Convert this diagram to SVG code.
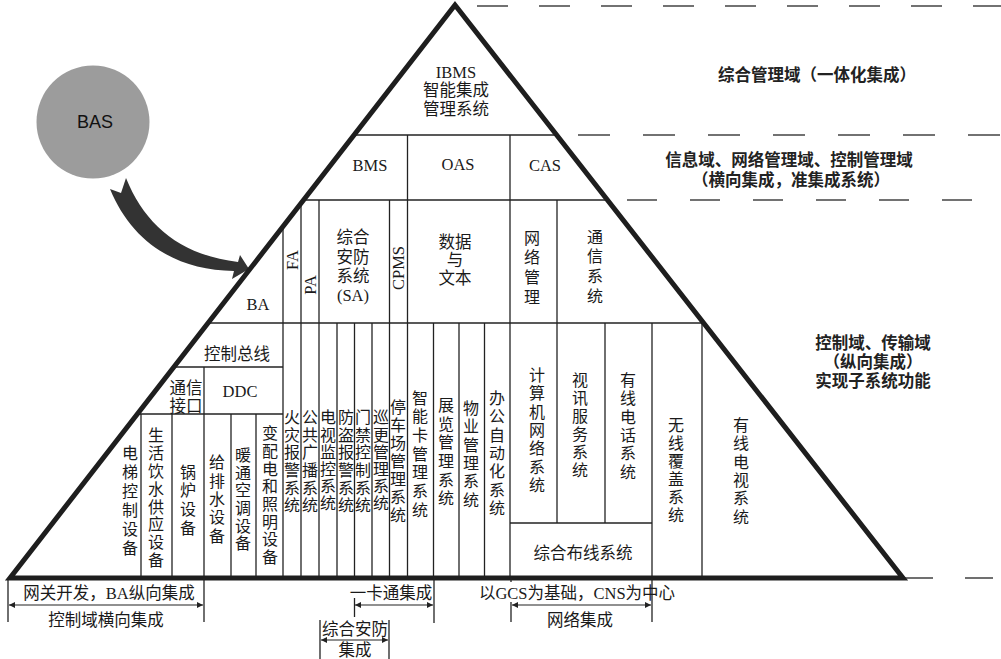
<svg xmlns="http://www.w3.org/2000/svg" width="1001" height="659" viewBox="0 0 1001 659">
<style>
.t{font-family:"Liberation Serif","Noto Sans CJK SC",serif;font-size:16.5px;fill:#1a1a1a;text-anchor:middle;dominant-baseline:central}
.v{font-family:"Noto Sans CJK SC",sans-serif;font-size:16px;fill:#1a1a1a;text-anchor:middle;writing-mode:vertical-rl;text-orientation:upright}
.r{font-family:"Liberation Sans","Noto Sans CJK SC",sans-serif;font-size:16.5px;font-weight:bold;fill:#222;text-anchor:middle;dominant-baseline:central}
.ln{stroke:#222;stroke-width:1.3;fill:none}
.dash{stroke:#444;stroke-width:1.3;fill:none}
.arr{stroke:#222;stroke-width:1.2;fill:none;marker-start:url(#ah);marker-end:url(#ah)}
</style>
<defs>
<clipPath id="tri"><polygon points="455,5 10,578 903,578"/></clipPath>
<marker id="ah" viewBox="0 0 10 10" refX="10" refY="5" markerWidth="9" markerHeight="6" markerUnits="userSpaceOnUse" orient="auto-start-reverse"><path d="M0,0 L10,5 L0,10 Z" fill="#222"/></marker>
</defs>
<rect width="1001" height="659" fill="#fff"/>

<g id="domain-lines">
<line class="dash" x1="477" y1="6" x2="1001" y2="6" stroke-dasharray="31 31"/>
<line class="dash" x1="578" y1="135" x2="1001" y2="135" stroke-dasharray="32 33"/>
<line class="dash" x1="627" y1="200" x2="1001" y2="200" stroke-dasharray="30 33"/>
<line class="ln" x1="903" y1="578" x2="933" y2="578"/>
<line class="ln" x1="965" y1="578" x2="993" y2="578"/>
</g>

<g id="bas">
<circle cx="93" cy="122" r="56.5" fill="#9c9c9c"/>
<text x="95" y="122" style="font-family:'Liberation Sans',sans-serif;font-size:18px;fill:#111;text-anchor:middle;dominant-baseline:central">BAS</text>
</g>

<g id="connectors">
<path d="M126 178 C145 225 180 255 238 262 L240 255 L249 269 L232 279 L234 271 C175 270 132 242 110 189 L121 193 Z" fill="#333"/>
</g>

<g id="grid" clip-path="url(#tri)">
<line class="ln" x1="0" y1="135" x2="1001" y2="135"/>
<line class="ln" x1="0" y1="200" x2="1001" y2="200"/>
<line class="ln" x1="0" y1="323" x2="1001" y2="323"/>
<line class="ln" x1="407.5" y1="135" x2="407.5" y2="578"/>
<line class="ln" x1="510" y1="135" x2="510" y2="578"/>
<line class="ln" x1="283" y1="150" x2="283" y2="578"/>
<line class="ln" x1="301" y1="200" x2="301" y2="578"/>
<line class="ln" x1="319" y1="200" x2="319" y2="578"/>
<line class="ln" x1="389.5" y1="200" x2="389.5" y2="578"/>
<line class="ln" x1="557" y1="200" x2="557" y2="523"/>
<line class="ln" x1="605" y1="323" x2="605" y2="523"/>
<line class="ln" x1="652" y1="323" x2="652" y2="578"/>
<line class="ln" x1="702" y1="323" x2="702" y2="578"/>
<line class="ln" x1="510" y1="523" x2="652" y2="523"/>
<line class="ln" x1="337" y1="323" x2="337" y2="578"/>
<line class="ln" x1="354.5" y1="323" x2="354.5" y2="578"/>
<line class="ln" x1="372" y1="323" x2="372" y2="578"/>
<line class="ln" x1="433.5" y1="323" x2="433.5" y2="578"/>
<line class="ln" x1="459" y1="323" x2="459" y2="578"/>
<line class="ln" x1="484.5" y1="323" x2="484.5" y2="578"/>
<line class="ln" x1="0" y1="367" x2="283" y2="367"/>
<line class="ln" x1="0" y1="414" x2="283" y2="414"/>
<line class="ln" x1="204" y1="367" x2="204" y2="578"/>
<line class="ln" x1="141" y1="414" x2="141" y2="578"/>
<line class="ln" x1="172" y1="414" x2="172" y2="578"/>
<line class="ln" x1="231" y1="414" x2="231" y2="578"/>
<line class="ln" x1="256" y1="414" x2="256" y2="578"/>
</g>
<polygon id="pyramid" points="455,5 10,578 903,578" fill="none" stroke="#1e1e1e" stroke-width="5" stroke-linejoin="miter"/>

<g id="ibms"><text class="t" x="456" y="72">IBMS</text><text class="t" x="456" y="90">智能集成</text><text class="t" x="456" y="109">管理系统</text></g>
<g id="bms"><text class="t" x="370" y="165">BMS</text></g>
<g id="oas"><text class="t" x="458" y="164">OAS</text></g>
<g id="cas"><text class="t" x="545" y="165">CAS</text></g>
<g id="ba"><text class="t" x="258" y="304">BA</text></g>
<g id="fa"><text class="t" transform="translate(292 260) rotate(-90)">FA</text></g>
<g id="pa"><text class="t" transform="translate(310 285) rotate(-90)">PA</text></g>
<g id="cpms"><text class="t" transform="translate(398 268) rotate(-90)">CPMS</text></g>
<g id="sa"><text class="t" x="353" y="237">综合</text><text class="t" x="353" y="257">安防</text><text class="t" x="353" y="276">系统</text><text class="t" x="353" y="295">(SA)</text></g>
<g id="data"><text class="t" x="455" y="242">数据</text><text class="t" x="455" y="260">与</text><text class="t" x="455" y="278">文本</text></g>
<g id="netmgmt"><text class="v" x="532" y="269" letter-spacing="3.7">网络管理</text></g>
<g id="comm"><text class="v" x="595" y="268" letter-spacing="3.7">通信系统</text></g>

<g id="bus"><text class="t" x="237" y="354">控制总线</text></g>
<g id="iface"><text class="t" x="186" y="388">通信</text><text class="t" x="186" y="406">接口</text></g>
<g id="ddc"><text class="t" x="240" y="391">DDC</text></g>

<g id="elev"><text class="v" x="130" y="502" letter-spacing="3">电梯控制设备</text></g>
<g id="water"><text class="v" x="156" y="498.5" letter-spacing="1.9">生活饮水供应设备</text></g>
<g id="boiler"><text class="v" x="188" y="501" letter-spacing="2.7">锅炉设备</text></g>
<g id="drain"><text class="v" x="217" y="500" letter-spacing="2.3">给排水设备</text></g>
<g id="hvac"><text class="v" x="243" y="500" letter-spacing="1.6">暖通空调设备</text></g>
<g id="power"><text class="v" x="270" y="496" letter-spacing="1.7">变配电和照明设备</text></g>
<g id="fire"><text class="v" x="292" y="462" letter-spacing="1.6">火灾报警系统</text></g>
<g id="broadcast"><text class="v" x="310" y="462" letter-spacing="1.6">公共广播系统</text></g>
<g id="cctv"><text class="v" x="328" y="461" letter-spacing="1.2">电视监控系统</text></g>
<g id="burglar"><text class="v" x="346" y="462" letter-spacing="1.6">防盗报警系统</text></g>
<g id="access"><text class="v" x="363" y="462" letter-spacing="1.6">门禁控制系统</text></g>
<g id="patrol"><text class="v" x="381" y="461" letter-spacing="1.2">巡更管理系统</text></g>
<g id="parking"><text class="v" x="398" y="462" letter-spacing="2">停车场管理系统</text></g>
<g id="card"><text class="v" x="420" y="455" letter-spacing="2.7">智能卡管理系统</text></g>
<g id="exhibit"><text class="v" x="446" y="453" letter-spacing="2.6">展览管理系统</text></g>
<g id="property"><text class="v" x="471" y="455" letter-spacing="2.4">物业管理系统</text></g>
<g id="office"><text class="v" x="497" y="454" letter-spacing="2.3">办公自动化系统</text></g>
<g id="computer"><text class="v" x="537" y="431" letter-spacing="2.3">计算机网络系统</text></g>
<g id="video"><text class="v" x="580" y="426" letter-spacing="2">视讯服务系统</text></g>
<g id="phone"><text class="v" x="628" y="427" letter-spacing="2.4">有线电话系统</text></g>
<g id="wireless"><text class="v" x="676" y="471" letter-spacing="2">无线覆盖系统</text></g>
<g id="catv"><text class="v" x="741" y="472" letter-spacing="2.4">有线电视系统</text></g>
<g id="cabling"><text class="t" x="583" y="553">综合布线系统</text></g>

<g id="right-labels">
<text class="r" x="817" y="75">综合管理域（一体化集成）</text>
<text class="r" x="789" y="160">信息域、网络管理域、控制管理域</text>
<text class="r" x="791" y="180">（横向集成，准集成系统）</text>
<text class="r" x="873" y="343">控制域、传输域</text>
<text class="r" x="873" y="362">（纵向集成）</text>
<text class="r" x="873" y="381">实现子系统功能</text>
</g>

<g id="integration">
<line class="ln" x1="8" y1="578" x2="8" y2="622"/>
<line class="ln" x1="204" y1="578" x2="204" y2="622"/>
<line class="ln" x1="354.5" y1="598" x2="354.5" y2="617"/>
<line class="ln" x1="434" y1="578" x2="434" y2="623"/>
<line class="ln" x1="320" y1="620" x2="320" y2="659"/>
<line class="ln" x1="389" y1="620" x2="389" y2="659"/>
<line class="ln" x1="511" y1="578" x2="511" y2="582"/>
<line class="ln" x1="511" y1="602" x2="511" y2="622"/>
<line class="ln" x1="652" y1="578" x2="652" y2="622"/>
<line class="arr" x1="9" y1="605" x2="203" y2="605"/>
<line class="arr" x1="355" y1="605" x2="433" y2="605"/>
<line class="arr" x1="321" y1="640" x2="388" y2="640"/>
<line class="arr" x1="512" y1="605" x2="651" y2="605"/>
<text class="t" x="109" y="593">网关开发，BA纵向集成</text>
<text class="t" x="106" y="620">控制域横向集成</text>
<text class="t" x="391" y="593">一卡通集成</text>
<text class="t" x="355" y="629">综合安防</text>
<text class="t" x="355" y="650">集成</text>
<text class="t" x="577" y="593">以GCS为基础，CNS为中心</text>
<text class="t" x="580" y="620">网络集成</text>
</g>
</svg>
